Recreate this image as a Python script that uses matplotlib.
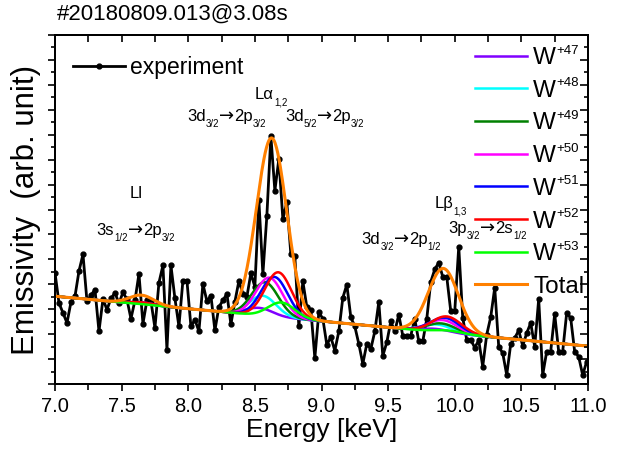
import numpy as np
import matplotlib
matplotlib.use("Agg")
import matplotlib.pyplot as plt
from matplotlib.ticker import MultipleLocator
from matplotlib.transforms import offset_copy, IdentityTransform

plt.rcParams['font.family'] = ['Liberation Sans', 'DejaVu Sans']

# ---------------- data ----------------
E_START = 7.0
E_STEP = 0.03
experiment = [
    4.46, 3.25, 2.85, 2.45, 3.29, 3.52, 4.53, 5.20, 3.32, 3.56,
    3.79, 2.11, 3.41, 2.98, 3.43, 3.66, 3.23, 3.68, 3.39, 2.62,
    3.35, 4.42, 2.42, 3.36, 3.32, 2.25, 4.06, 4.76, 1.37, 4.76,
    3.43, 2.31, 4.15, 4.15, 2.31, 2.58, 2.11, 4.02, 3.32, 3.55,
    2.15, 3.09, 3.35, 3.62, 2.40, 3.30, 4.13, 3.63, 3.50, 4.44,
    3.90, 7.37, 4.40, 6.75, 9.95, 7.75, 9.03, 6.61, 7.30, 5.20,
    5.13, 2.31, 4.12, 3.09, 2.98, 1.04, 2.88, 2.62, 1.57, 1.88,
    1.34, 2.11, 3.46, 3.99, 2.68, 2.31, 1.61, 0.81, 1.61, 1.40,
    2.11, 3.29, 1.13, 1.67, 2.51, 2.11, 2.78, 1.94, 1.94, 1.94,
    2.61, 1.71, 1.71, 2.61, 4.10, 4.60, 4.87, 4.30, 4.30, 2.92,
    2.92, 5.51, 2.65, 1.77, 1.77, 1.46, 1.75, 0.70, 1.98, 2.69,
    3.86, 1.50, 1.24, 0.36, 1.60, 1.84, 2.15, 1.53, 2.04, 2.45,
    1.50, 3.41, 0.36, 1.30, 1.30, 2.81, 1.30, 1.30, 2.85, 2.65,
    1.30, 1.10, 0.36, 0.90,
]

ion_charges = ['+47', '+48', '+49', '+50', '+51', '+52', '+53']
ion_colors = ['#8000FF', '#00FFFF', '#008000', '#FF00FF',
              '#0000FF', '#FF0000', '#00FF00']

# fitted background (linear)
bg_at_7 = 3.52
bg_slope = -0.50

# L-alpha fitted components
la_center = [8.533, 8.559, 8.576, 8.608, 8.646, 8.676, 8.700]
la_amp = [0.30, 0.80, 1.35, 1.55, 1.60, 1.80, 0.60]
la_sigma = 0.10
# L-beta fitted components
lb_center = [9.86, 9.87, 9.90, 9.91, 9.925, 9.94, 9.95]
lb_amp = [0.12, 0.30, 0.36, 0.50, 0.60, 0.66, 0.10]
lb_sigma = 0.11
# L-l fitted components
ll_center = [7.65, 7.65, 7.65, 7.65, 7.65, 7.65, 7.65]
ll_amp = [0.08, 0.04, 0.04, 0.05, 0.07, 0.08, 0.01]
ll_sigma = 0.09

# line identifications: (energy, height, [(text, kind), ...]); kind 0 text, 1 subscript, 2 arrow
annotations = [
    (8.501, 11.42, [('Lα', 0), ('1,2', 1)]),
    (7.991, 10.55, [('3d', 0), ('3/2', 1), ('→', 2), ('2p', 0), ('3/2', 1)]),
    (8.726, 10.55, [('3d', 0), ('5/2', 1), ('→', 2), ('2p', 0), ('3/2', 1)]),
    (7.563, 7.46, [('Ll', 0)]),
    (7.313, 5.98, [('3s', 0), ('1/2', 1), ('→', 2), ('2p', 0), ('3/2', 1)]),
    (9.852, 7.06, [('Lβ', 0), ('1,3', 1)]),
    (9.302, 5.62, [('3d', 0), ('3/2', 1), ('→', 2), ('2p', 0), ('1/2', 1)]),
    (9.952, 6.06, [('3p', 0), ('3/2', 1), ('→', 2), ('2s', 0), ('1/2', 1)]),
]

# ---------------- figure ----------------
fig = plt.figure(figsize=(6.21, 4.49), dpi=100)
ax = fig.add_axes([55/621, 1-384/449, 533/621, 349/449])

energy = E_START + E_STEP*np.arange(len(experiment))
hexp, = ax.plot(energy, experiment, '-', color='black', lw=2, marker='o', ms=3.5,
                label='experiment', zorder=2)

Ef = np.linspace(7.0, 11.0, 800)
bg = bg_at_7 + bg_slope*(Ef - 7.0)

def gauss(x, c, a, s):
    return a*np.exp(-0.5*((x - c)/s)**2)

total = bg.copy()
comp_handles = []
for k in range(len(ion_charges)):
    peak = (gauss(Ef, la_center[k], la_amp[k], la_sigma)
            + gauss(Ef, lb_center[k], lb_amp[k], lb_sigma)
            + gauss(Ef, ll_center[k], ll_amp[k], ll_sigma))
    total += peak
    h, = ax.plot(Ef, bg + peak, color=ion_colors[k], lw=1.8,
                 label='W' + ion_charges[k], zorder=3)
    comp_handles.append(h)
ht, = ax.plot(Ef, total, color='#FF8000', lw=2.2, label='Total', zorder=4)

ax.set_xlim(7.0, 11.0)
ax.set_ylim(0, 14)
ax.set_xticks(np.arange(7.0, 11.01, 0.5))
ax.set_xticklabels([f'{v:.1f}' for v in np.arange(7.0, 11.01, 0.5)])
ax.xaxis.set_minor_locator(MultipleLocator(0.25))
ax.yaxis.set_major_locator(MultipleLocator(1))
ax.yaxis.set_minor_locator(MultipleLocator(0.5))
ax.tick_params(axis='both', which='both', direction='out', top=False, right=False,
               width=1.2)
ax.tick_params(axis='x', which='major', length=5, labelsize=14.5, pad=4)
ax.tick_params(axis='x', which='minor', length=4)
ax.tick_params(axis='y', which='major', length=5, labelleft=False)
ax.tick_params(axis='y', which='minor', length=3)

axr = ax.twinx()
axr.set_ylim(0, 14)
axr.yaxis.set_major_locator(MultipleLocator(1))
axr.yaxis.set_minor_locator(MultipleLocator(0.5))
axr.tick_params(axis='y', which='both', direction='in', width=1.2, labelright=False)
axr.tick_params(axis='y', which='major', length=6)
axr.tick_params(axis='y', which='minor', length=3)
axt = ax.twiny()
axt.set_xlim(7.0, 11.0)
axt.xaxis.set_major_locator(MultipleLocator(0.25))
axt.tick_params(axis='x', which='both', direction='in', length=5, width=1.2,
                labeltop=False)
for a in (ax, axr, axt):
    for sp in a.spines.values():
        sp.set_linewidth(1.4)

ax.set_xlabel('Energy [keV]', fontsize=19, labelpad=2)
ax.set_ylabel('Emissivity  (arb. unit)', fontsize=22.5, labelpad=5)
fig.text(57/621, 1-14/449, '#20180809.013@3.08s', fontsize=16, va='center', ha='left')

leg1 = ax.legend(handles=[hexp], loc='upper left',
                 bbox_to_anchor=((73-55)/533, (384-56)/349),
                 frameon=False, fontsize=16.5, handlelength=2.25, handletextpad=0.22,
                 borderpad=0, borderaxespad=0)
ax.add_artist(leg1)
leg2 = ax.legend(handles=comp_handles + [ht], labels=['W']*len(ion_charges) + ['Total'],
                 loc='upper left', bbox_to_anchor=((475-55)/533, (384-47)/349),
                 frameon=False, fontsize=17.5, handlelength=2.15, handletextpad=0.25,
                 labelspacing=0.44, borderpad=0, borderaxespad=0)

fig.canvas.draw()
renderer = fig.canvas.get_renderer()

# superscripts of the legend labels
for txt, q in zip(leg2.get_texts()[:len(ion_charges)], ion_charges):
    bb = txt.get_window_extent(renderer)
    fig.text(bb.x1 + 0.5, bb.y1 + 2.5, q, fontsize=9.5, ha='left', va='top',
             transform=IdentityTransform())

# annotations with small subscripts
MAIN_FS = 12.0
SUB_FS = 7.0
SUB_DY = -4.5
for x0, y0, pieces in annotations:
    xoff = 0.0
    for s, kind in pieces:
        kw = {}
        if kind == 1:
            fs, dy = SUB_FS, SUB_DY
        elif kind == 2:
            fs, dy = 13.0, 0.3
            kw['family'] = 'DejaVu Sans'
        else:
            fs, dy = MAIN_FS, 0.0
        t = ax.text(x0, y0, s, fontsize=fs, ha='left', va='baseline',
                    transform=offset_copy(ax.transData, fig=fig, x=xoff, y=dy,
                                          units='points'), **kw)
        xoff += t.get_window_extent(renderer).width * 72.0 / fig.dpi

fig.savefig('out.png', dpi=100)
